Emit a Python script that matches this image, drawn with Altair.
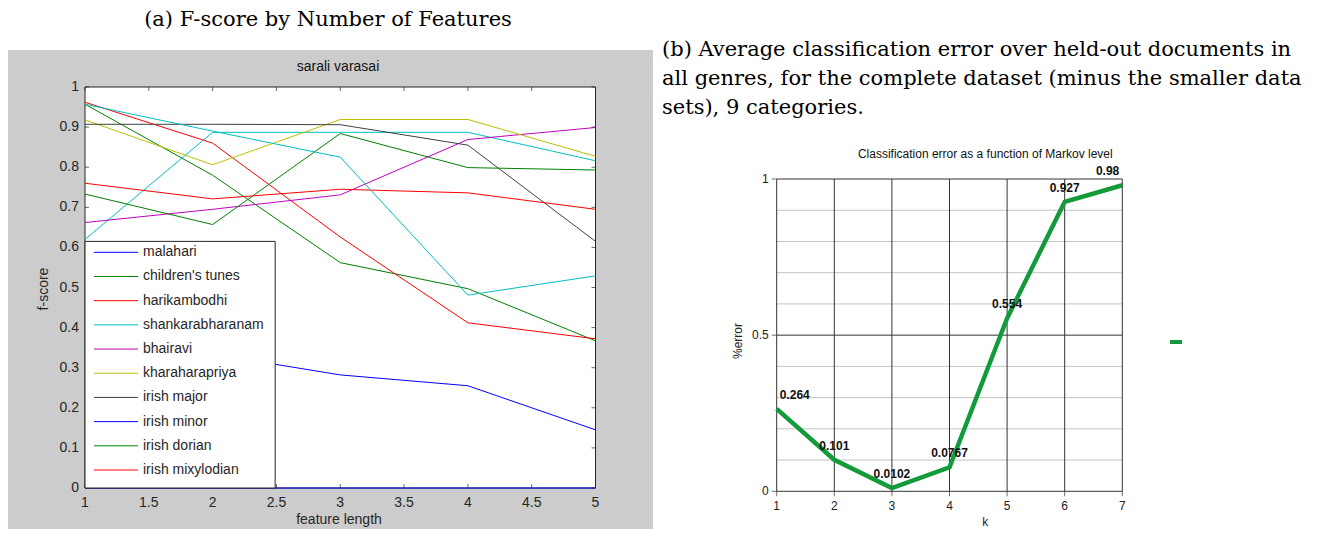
import altair as alt
import pandas as pd

# ---------------- data ----------------
feature_length = [1, 2, 3, 4, 5]
series_names = ["malahari", "children's tunes", "harikambodhi", "shankarabharanam",
                "bhairavi", "kharaharapriya", "irish major", "irish minor",
                "irish dorian", "irish mixylodian", "(unlisted)"]
series_colors = ["#0000ff", "#008000", "#ff0000", "#00bfbf", "#bf00bf", "#bfbf00",
                 "#404040", "#0000ff", "#008000", "#ff0000", "#00bfbf"]

fscore_malahari = [0.36, 0.334, 0.282, 0.255, 0.145]
fscore_childrens = [0.957, 0.78, 0.562, 0.497, 0.367]
fscore_harikambodhi = [0.962, 0.86, 0.626, 0.412, 0.372]
fscore_shankarabharanam = [0.62, 0.887, 0.887, 0.887, 0.816]
fscore_bhairavi = [0.662, 0.695, 0.731, 0.869, 0.899]
fscore_kharaharapriya = [0.918, 0.806, 0.919, 0.919, 0.827]
fscore_irish_major = [0.907, 0.907, 0.906, 0.855, 0.615]
fscore_irish_minor = [0.0, 0.0, 0.0, 0.0, 0.0]
fscore_irish_dorian = [0.733, 0.657, 0.884, 0.799, 0.793]
fscore_irish_mixylodian = [0.76, 0.721, 0.745, 0.736, 0.695]
fscore_unlisted = [0.957, 0.89, 0.825, 0.481, 0.529]

fscore_series = [fscore_malahari, fscore_childrens, fscore_harikambodhi,
                 fscore_shankarabharanam, fscore_bhairavi, fscore_kharaharapriya,
                 fscore_irish_major, fscore_irish_minor, fscore_irish_dorian,
                 fscore_irish_mixylodian, fscore_unlisted]
legend_names = series_names[:10]

f_xticks = [1, 1.5, 2, 2.5, 3, 3.5, 4, 4.5, 5]
f_yticks = [0, 0.1, 0.2, 0.3, 0.4, 0.5, 0.6, 0.7, 0.8, 0.9, 1]

markov_level = [1, 2, 3, 4, 5, 6, 7]
class_error = [0.264, 0.101, 0.0102, 0.0767, 0.554, 0.927, 0.98]
err_major = [0, 0.5, 1]
err_minor = [0.1, 0.2, 0.3, 0.4, 0.6, 0.7, 0.8, 0.9]

caption_a = "(a) F-score by Number of Features"
caption_b = ["(b) Average classification error over held-out documents in",
             "all genres, for the complete dataset (minus the smaller data",
             "sets), 9 categories."]
title_a = "sarali varasai"
xlabel_a = "feature length"
ylabel_a = "f-score"
title_b = "Classification error as a function of Markov level"
xlabel_b = "k"
ylabel_b = "%error"

# ---------------- tables ----------------
rows = []
for name, vals in zip(series_names, fscore_series):
    for xv, yv in zip(feature_length, vals):
        rows.append({"series": name, "x": xv, "y": yv})
f_df = pd.DataFrame(rows)
err_df = pd.DataFrame({"k": markov_level, "err": class_error})
one = pd.DataFrame({"v": [0]})

W, H = 1302, 521
SANS = "Liberation Sans"
SERIF = "DejaVu Serif"
AX = "#262626"

FX = alt.Scale(domain=[1, 5], range=[77, 587.5], nice=False, zero=False)
FY = alt.Scale(domain=[0, 1], range=[480, 79], nice=False, zero=False)
RX = alt.Scale(domain=[1, 7], range=[768.7, 1114.3], nice=False, zero=False)
RY = alt.Scale(domain=[0, 1], range=[483.3, 171], nice=False, zero=False)
CS = alt.Scale(domain=series_names, range=series_colors)


def xd(v, s):
    return alt.XDatum(v, type="quantitative", scale=s, axis=None)


def yd(v, s):
    return alt.YDatum(v, type="quantitative", scale=s, axis=None)


# ---------------- left panel ----------------
bg = alt.Chart(one).mark_rect(color="#cccccc").encode(
    x=alt.value(0), x2=alt.value(645), y=alt.value(42), y2=alt.value(H))

frame = alt.Chart(one).mark_rect(fill="white", stroke=AX, strokeWidth=1).encode(
    x=xd(1, FX), x2=alt.X2Datum(5), y=yd(0, FY), y2=alt.Y2Datum(1))

lines = alt.Chart(f_df).mark_line(strokeWidth=1).encode(
    x=alt.X("x:Q", scale=FX, axis=None),
    y=alt.Y("y:Q", scale=FY, axis=None),
    color=alt.Color("series:N", scale=CS, legend=None),
    detail="series:N")

yt = pd.DataFrame({"t": f_yticks})
xt = pd.DataFrame({"t": f_xticks})
tick_left = alt.Chart(yt).mark_tick(orient="horizontal", size=4, thickness=1,
                                    xOffset=2, color=AX).encode(
    x=xd(1, FX), y=alt.Y("t:Q", scale=FY, axis=None))
tick_right = alt.Chart(yt).mark_tick(orient="horizontal", size=4, thickness=1,
                                     xOffset=-2, color=AX).encode(
    x=xd(5, FX), y=alt.Y("t:Q", scale=FY, axis=None))
tick_bottom = alt.Chart(xt).mark_tick(orient="vertical", size=4, thickness=1,
                                      yOffset=-2, color=AX).encode(
    x=alt.X("t:Q", scale=FX, axis=None), y=yd(0, FY))
tick_top = alt.Chart(xt).mark_tick(orient="vertical", size=4, thickness=1,
                                   yOffset=2, color=AX).encode(
    x=alt.X("t:Q", scale=FX, axis=None), y=yd(1, FY))

ylab_left = alt.Chart(yt).mark_text(align="right", baseline="middle", dx=-6,
                                    font=SANS, fontSize=14, color=AX).encode(
    x=xd(1, FX), y=alt.Y("t:Q", scale=FY, axis=None),
    text=alt.Text("t:Q", format="~g"))
xlab_left = alt.Chart(xt).mark_text(align="center", baseline="middle", dy=15,
                                    font=SANS, fontSize=14, color=AX).encode(
    x=alt.X("t:Q", scale=FX, axis=None), y=yd(0, FY),
    text=alt.Text("t:Q", format="~g"))

legend_box = alt.Chart(one).mark_rect(fill="white", stroke=AX, strokeWidth=1).encode(
    x=xd(1, FX), x2=alt.X2Datum(2.49), y=yd(0, FY), y2=alt.Y2Datum(0.615))

left_core = alt.layer(frame, lines, tick_left, tick_right, tick_bottom, tick_top,
                      legend_box, ylab_left, xlab_left)

leg_df = pd.DataFrame({"series": legend_names})
LY = alt.Y("series:N", scale=alt.Scale(type="point", domain=legend_names,
                                       range=[244.3, 462], padding=0), axis=None)
legend_rules = alt.Chart(leg_df).mark_rule(strokeWidth=1).encode(
    x=alt.value(86), x2=alt.value(130), y=LY,
    color=alt.Color("series:N", scale=CS, legend=None))
legend_text = alt.Chart(leg_df).mark_text(align="left", baseline="middle", font=SANS,
                                          fontSize=14, color=AX).encode(
    x=alt.value(135), y=LY, text="series:N")
left_legend = alt.layer(legend_rules, legend_text)

# ---------------- right panel ----------------
vgrid = alt.Chart(pd.DataFrame({"k": markov_level})).mark_rule(
    color="#333333", strokeWidth=1).encode(
    x=alt.X("k:Q", scale=RX, axis=None), y=yd(0, RY), y2=alt.Y2Datum(1))
hminor = alt.Chart(pd.DataFrame({"e": err_minor})).mark_rule(
    color="#c4c4c4", strokeWidth=1).encode(
    y=alt.Y("e:Q", scale=RY, axis=None), x=xd(1, RX), x2=alt.X2Datum(7))
hmajor = alt.Chart(pd.DataFrame({"e": err_major})).mark_rule(
    color="#333333", strokeWidth=1).encode(
    y=alt.Y("e:Q", scale=RY, axis=None), x=xd(1, RX), x2=alt.X2Datum(7))

rxt = pd.DataFrame({"t": markov_level})
ryt = pd.DataFrame({"t": err_major})
rtick_x = alt.Chart(rxt).mark_tick(orient="vertical", size=5, thickness=1,
                                   yOffset=2.5, color="#333333").encode(
    x=alt.X("t:Q", scale=RX, axis=None), y=yd(0, RY))
rtick_y = alt.Chart(ryt).mark_tick(orient="horizontal", size=5, thickness=1,
                                   xOffset=-2.5, color="#333333").encode(
    x=xd(1, RX), y=alt.Y("t:Q", scale=RY, axis=None))
rlab_x = alt.Chart(rxt).mark_text(align="center", baseline="middle", dy=15,
                                  font=SANS, fontSize=12, color="#222222").encode(
    x=alt.X("t:Q", scale=RX, axis=None), y=yd(0, RY),
    text=alt.Text("t:Q", format="d"))
rlab_y = alt.Chart(ryt).mark_text(align="right", baseline="middle", dx=-8,
                                  font=SANS, fontSize=12, color="#222222").encode(
    x=xd(1, RX), y=alt.Y("t:Q", scale=RY, axis=None),
    text=alt.Text("t:Q", format="~g"))

GREEN = "#139a3b"
eline = alt.Chart(err_df).mark_line(color=GREEN, strokeWidth=4.5,
                                    strokeJoin="miter").encode(
    x=alt.X("k:Q", scale=RX, axis=None),
    y=alt.Y("err:Q", scale=RY, axis=None))


def err_labels(cond, align, dx):
    return alt.Chart(err_df).transform_filter(cond).mark_text(
        font=SANS, fontSize=12, fontWeight="bold", color="#111111",
        align=align, baseline="middle", dx=dx, dy=-14).encode(
        x=alt.X("k:Q", scale=RX, axis=None),
        y=alt.Y("err:Q", scale=RY, axis=None),
        text=alt.Text("err:Q", format="~g"))


lab_first = err_labels("datum.k == 1", "left", 3)
lab_mid = err_labels("datum.k > 1 && datum.k < 7", "center", 0)
lab_last = err_labels("datum.k == 7", "right", -3)

right_core = alt.layer(hminor, hmajor, vgrid, rtick_x, rtick_y, rlab_x, rlab_y,
                       eline, lab_first, lab_mid, lab_last)

legend_dash = alt.Chart(one).mark_rule(color=GREEN, strokeWidth=4).encode(
    x=alt.value(1162), x2=alt.value(1174), y=alt.value(334))


# ---------------- texts ----------------
def label(txt, x, y, font, size, align="center", angle=0, color="#111111",
          baseline="middle", **kw):
    return alt.Chart(one).mark_text(font=font, fontSize=size, align=align,
                                    baseline=baseline, angle=angle, color=color,
                                    **kw).encode(
        x=alt.value(x), y=alt.value(y), text=alt.value(txt))


cap_a = label(caption_a, 320, 17.7, SERIF, 21, baseline="alphabetic", color="black")
cap_b = label(caption_b, 654, 47.7, SERIF, 21, align="left", baseline="alphabetic",
              color="black", lineHeight=29)
ttl_a = label(title_a, 330, 59, SANS, 14)
xt_a = label(xlabel_a, 331, 512, SANS, 14, color=AX)
yt_a = label(ylabel_a, 35.5, 281, SANS, 14, angle=270, color=AX)
ttl_b = label(title_b, 977.3, 146, SANS, 12)
xt_b = label(xlabel_b, 977.3, 514, SANS, 12, color="#222222")
yt_b = label(ylabel_b, 729.5, 333, SANS, 12, angle=270, color="#222222")

chart = alt.layer(
    bg, left_core, left_legend, right_core, legend_dash,
    cap_a, cap_b, ttl_a, xt_a, yt_a, ttl_b, xt_b, yt_b
).resolve_scale(x="independent", y="independent").properties(
    width=W, height=H, padding=0, background="white",
    autosize=alt.AutoSizeParams(type="none")
).configure_view(stroke=None)

chart.save("out.html", embed_options={"renderer": "svg", "actions": False})
